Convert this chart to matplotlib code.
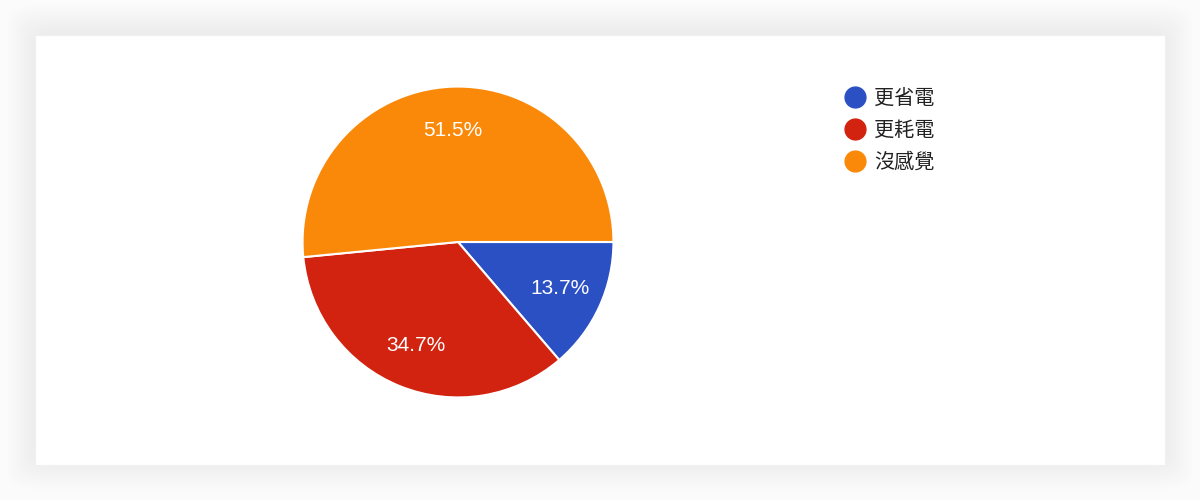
import matplotlib.pyplot as plt
from matplotlib.patches import Rectangle, FancyBboxPatch
from matplotlib.lines import Line2D

# データ
labels = ["更省電", "更耗電", "沒感覺"]
values = [13.7, 34.7, 51.5]
pct_labels = ["13.7%", "34.7%", "51.5%"]
colors = ["#2b50c4", "#d1230f", "#fb8909"]

plt.rcParams['font.family'] = ['Liberation Sans', 'Noto Sans CJK TC', 'DejaVu Sans']

W, H = 1200, 500
fig = plt.figure(figsize=(12, 5), dpi=100, facecolor="#fbfbfb")

# カードの影 (ぼかし風)
for g in range(2, 30, 2):
    fig.add_artist(FancyBboxPatch(((35 - g) / W, (35 - g + 3) / H), (1130 + 2 * g) / W, (430 + 2 * g) / H,
                                  boxstyle="round,pad=0,rounding_size=0.03", transform=fig.transFigure,
                                  facecolor="black", edgecolor="none", alpha=0.004, zorder=0))
fig.add_artist(Rectangle((35 / W, 35 / H), 1130 / W, 430 / H, transform=fig.transFigure,
                         facecolor="white", edgecolor="#f0f0f0", linewidth=0.8, zorder=1))

# 円グラフ
cx, cy, r = 458, 242, 157
ax = fig.add_axes([(cx - r) / W, (H - cy - r) / H, 2 * r / W, 2 * r / H])
ax.set_zorder(2)
wedges, texts, autotexts = ax.pie(values, colors=colors, startangle=0, counterclock=False,
                                  autopct="%.1f%%", pctdistance=0.72,
                                  wedgeprops=dict(edgecolor="white", linewidth=1.5),
                                  textprops=dict(color="white", fontsize=15))
for t, s in zip(autotexts, pct_labels):
    t.set_text(s)
ax.set_aspect("equal")
ax.set_xlim(-1.01, 1.01)
ax.set_ylim(-1.01, 1.01)
ax.axis("off")

# 凡例
handles = [Line2D([], [], marker="o", linestyle="none", markersize=15,
                  markerfacecolor=c, markeredgecolor=c) for c in colors]
leg = fig.legend(handles, labels, loc="upper left", bbox_to_anchor=(843 / W, 1 - 89 / H),
                 frameon=False, fontsize=14.5, labelspacing=0.62, handletextpad=0.35,
                 handlelength=1.2, borderpad=0, borderaxespad=0)
for t in leg.get_texts():
    t.set_color("#222222")
leg.set_zorder(3)

plt.savefig("out.png", dpi=100, facecolor=fig.get_facecolor())
